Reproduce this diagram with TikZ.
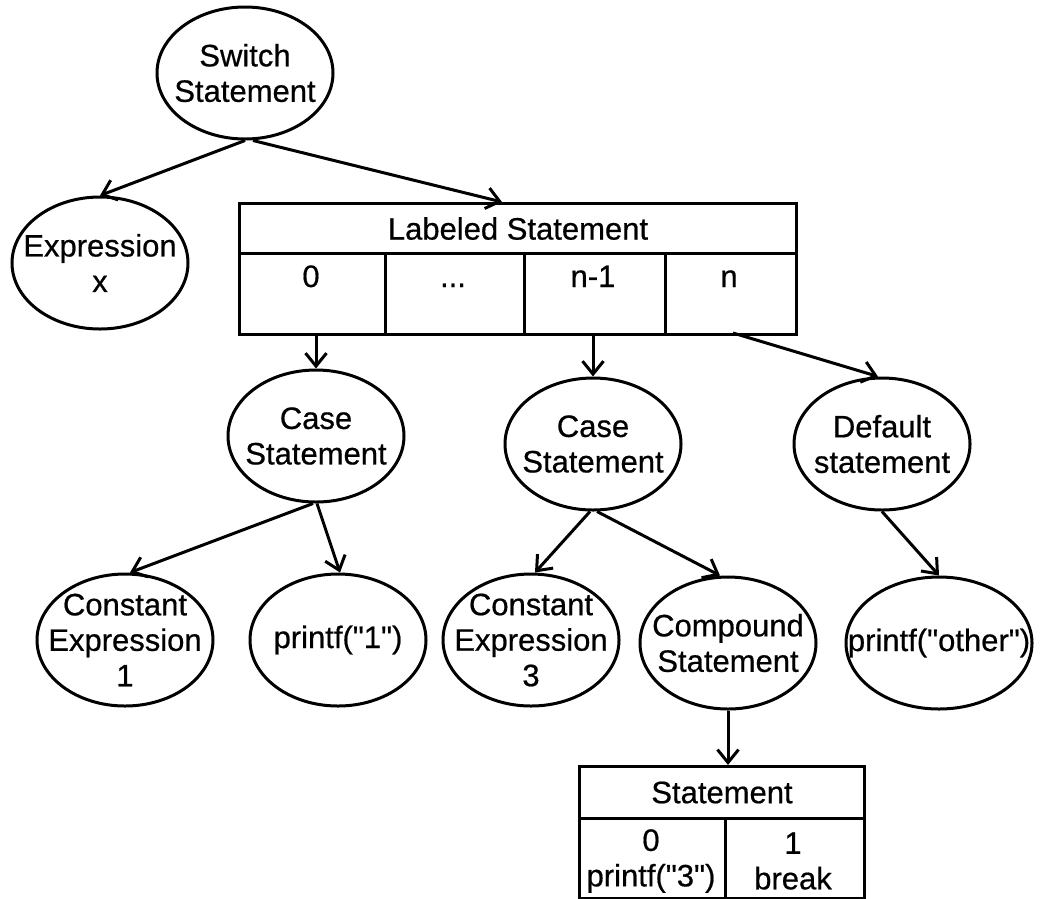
\documentclass[tikz,border=0pt]{standalone}
\usepackage{fontspec}
\newfontfamily\arialf{Liberation Sans}[FakeBold=0.6]
\usetikzlibrary{shapes.geometric,arrows.meta}
\begin{document}
\begin{tikzpicture}[x=1pt,y=-1pt,
  every node/.style={font=\arialf\fontsize{31}{35.5}\selectfont},
  ell/.style={draw,line width=3pt,ellipse,minimum width=176pt,minimum height=132pt,inner sep=0pt},
  in/.style={label={[inner sep=0pt,align=center]center:#1}},
  box/.style={draw,line width=3pt,rectangle,inner sep=0pt,anchor=north west,align=center},
  txt/.style={inner sep=0pt,align=center},
  ctxt/.style={inner sep=0pt,anchor=base},
  arr/.style={line width=3pt,-{Straight Barb[length=13pt,width=21pt,line width=3pt]}}]
\useasboundingbox (0,0) rectangle (1040,898);
% ellipses
\node[ell,in={Switch\\Statement}] (sw) at (245,73) {};
\node[ell,in={Expression\\x}] (ex) at (100,263) {};
\node[ell,in={Case\\Statement}] (cs1) at (316,436) {};
\node[ell,in={Case\\Statement}] (cs2) at (593,444) {};
\node[ell,in={Default\\statement}] (df) at (882,444) {};
\node[ell,in={Constant\\Expression\\1}] (ce1) at (125,640) {};
\node[ell,in={printf("1")}] (pr1) at (338,640) {};
\node[ell,in={Constant\\Expression\\3}] (ce3) at (531,640) {};
\node[ell,in={Compound\\Statement}] (cp) at (728,643) {};
\node[ell,minimum width=186pt,in={printf("other")}] (pro) at (939,643) {};
% labeled statement table
\node[box,minimum width=557pt,minimum height=50pt] (lsh) at (238,202) {Labeled Statement};
\node[box,minimum width=146pt,minimum height=81pt] (c0) at (238,252) {};
\node[box,minimum width=139pt,minimum height=81pt] (c1) at (384,252) {};
\node[box,minimum width=141pt,minimum height=81pt] (c2) at (523,252) {};
\node[box,minimum width=131pt,minimum height=81pt] (c3) at (664,252) {};
\node[ctxt] (t0) at (311,287) {0};
\node[ctxt] (t1) at (453,287) {...};
\node[ctxt] (t2) at (593,287) {n-1};
\node[ctxt] (t3) at (729,287) {n};
% statement table
\node[box,minimum width=285pt,minimum height=52pt] (sth) at (578,765) {Statement};
\node[box,minimum width=146pt,minimum height=80pt] (s0) at (578,817) {};
\node[box,minimum width=139pt,minimum height=80pt] (s1) at (724,817) {};
\node[txt] (s0t) at (651,861) {0\\printf("3")};
\node[txt] (s1t) at (793,861) {1\\break};
% connectors
\coordinate (lsin) at (502,202);
\coordinate (c3out) at (733,333);
\draw[arr] (sw.south) -- (ex.north);
\draw[arr] ([xshift=8pt]sw.south) -- (lsin);
\draw[arr] (cs1.north |- c0.south) -- (cs1.north);
\draw[arr] (cs2.north |- c2.south) -- (cs2.north);
\draw[arr] (c3out) -- ([xshift=-4pt]df.north);
\draw[arr] ([xshift=-3pt]cs1.south) -- ([xshift=5pt]ce1.north);
\draw[arr] ([xshift=1pt]cs1.south) -- ([xshift=2pt]pr1.north);
\draw[arr] ([xshift=-3pt]cs2.south) -- ([xshift=4pt]ce3.north);
\draw[arr] ([xshift=4pt]cs2.south) -- ([xshift=-8pt]cp.north);
\draw[arr] (df.south) -- (pro.north);
\draw[arr] (cp.south) -- (cp.south |- sth.north);
\end{tikzpicture}
\end{document}
